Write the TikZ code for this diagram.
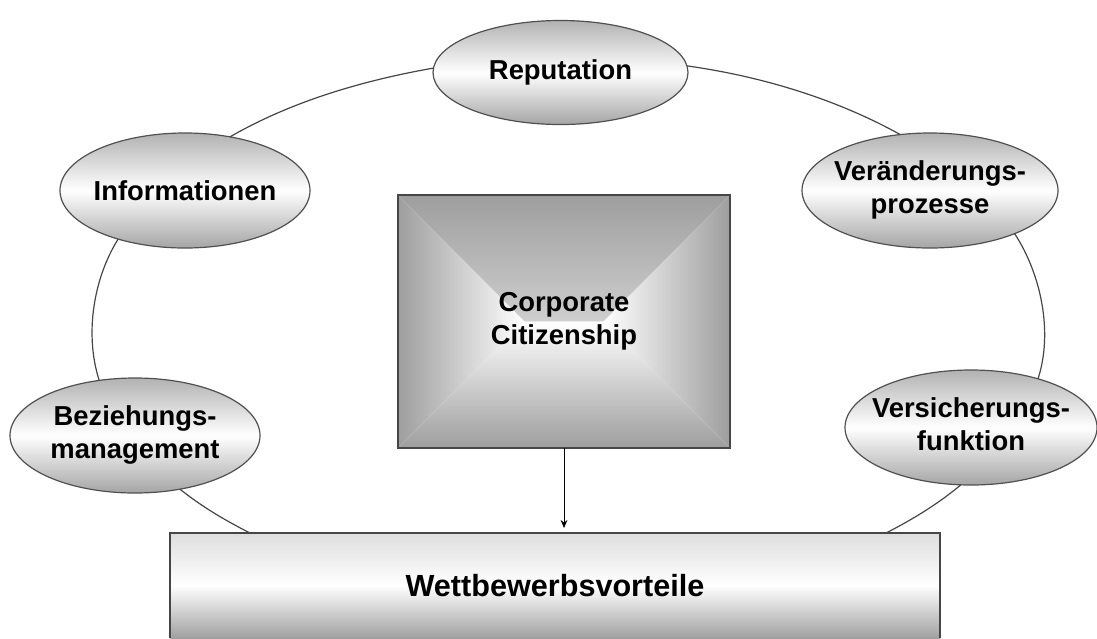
\documentclass[tikz,border=0pt]{standalone}
\usepackage{fontspec}
\setmainfont{Liberation Sans}
\usetikzlibrary{shapes.geometric,arrows.meta,calc}
\definecolor{ringline}{RGB}{70,70,70}
\definecolor{ellline}{RGB}{80,80,80}
\definecolor{elltop}{RGB}{178,178,178}
\definecolor{ellbot}{RGB}{165,165,165}
\definecolor{ccedge}{RGB}{158,158,158}
\definecolor{boxline}{RGB}{70,70,70}
\definecolor{wbtop}{RGB}{222,222,222}
\definecolor{wbbot}{RGB}{160,160,160}
\newcommand\ellfont{\fontsize{13.7pt}{16.5pt}\selectfont\bfseries}
\newcommand\wbfont{\fontsize{15.3pt}{18pt}\selectfont\bfseries}
\newcommand\twolines[2]{\makebox[0pt]{\begin{tabular}{@{}c@{}}#1\\#2\end{tabular}}}
\begin{document}
\begin{tikzpicture}[x=0.5pt,y=0.5pt,
  ell/.style={ellipse, draw=ellline, line width=0.6pt, inner sep=0pt, outer sep=0pt,
    top color=elltop, bottom color=ellbot, middle color=white, font=\ellfont},
  ring/.style={draw=ringline, line width=0.6pt, looseness=0.85},
  ccbox/.style={rectangle, draw=boxline, line width=1pt, inner sep=0pt, outer sep=0pt,
    minimum width=166pt, minimum height=126.5pt, font=\ellfont,
    path picture={
      \shade[top color=ccedge, bottom color=white]
        (path picture bounding box.north west) -- (path picture bounding box.north east)
        -- ([xshift=-63.25pt]path picture bounding box.east)
        -- ([xshift=63.25pt]path picture bounding box.west) -- cycle;
      \shade[bottom color=ccedge, top color=white]
        (path picture bounding box.south west) -- (path picture bounding box.south east)
        -- ([xshift=-63.25pt]path picture bounding box.east)
        -- ([xshift=63.25pt]path picture bounding box.west) -- cycle;
      \shade[left color=ccedge, right color=white]
        (path picture bounding box.north west)
        -- ([xshift=63.25pt]path picture bounding box.west)
        -- (path picture bounding box.south west) -- cycle;
      \shade[right color=ccedge, left color=white]
        (path picture bounding box.north east)
        -- ([xshift=-63.25pt]path picture bounding box.east)
        -- (path picture bounding box.south east) -- cycle;
    }},
  wbbox/.style={rectangle, inner sep=0pt, outer sep=0pt,
    minimum width=385pt, minimum height=52.5pt, font=\wbfont,
    top color=wbtop, bottom color=wbbot, middle color=white},
  wbline/.style={draw=boxline, line width=0.8pt},
  arr/.style={draw=black, line width=0.5pt, -{Stealth[length=4pt,width=3.4pt]}, shorten >=2.5pt}
]
\useasboundingbox (0,0) rectangle (1097,-638);

\node[wbbox] (wb) at (555,-585.5) {Wettbewerbsvorteile};
\draw[wbline] (wb.south west) -- (wb.north west) -- (wb.north east) -- (wb.south east);

\node[ccbox] (cc) at (564,-321.5) {\twolines{Corporate}{Citizenship}};

\node[ell, minimum width=127.5pt, minimum height=52pt] (rep) at (560.5,-72.5) {\makebox[0pt]{Reputation}};
\node[ell, minimum width=125pt, minimum height=57.5pt] (inf) at (185,-190.5) {\makebox[0pt]{Informationen}};
\node[ell, minimum width=128pt, minimum height=57.5pt] (ver) at (930,-190.5) {\twolines{Veränderungs-}{prozesse}};
\node[ell, minimum width=125pt, minimum height=57.5pt] (bez) at (135,-435.5) {\twolines{Beziehungs-}{management}};
\node[ell, minimum width=126pt, minimum height=57.5pt] (vers) at (971,-427.5) {\twolines{Versicherungs-}{funktion}};

\draw[ring] (rep.178) to[out=190,in=30] (inf.50);
\draw[ring] (inf.216) to[out=238,in=108] (bez.123);
\draw[ring] (bez.310) to[out=321,in=153] ([xshift=40pt]wb.north west);
\draw[ring] (rep.3) to[out=-8,in=151] (ver.118);
\draw[ring] (ver.333) to[out=-57,in=72] (vers.36);
\draw[ring] (vers.260) to[out=220,in=27] ([xshift=-27pt]wb.north east);

\draw[arr] (cc.south) -- (cc.south |- wb.north);
\end{tikzpicture}
\end{document}
